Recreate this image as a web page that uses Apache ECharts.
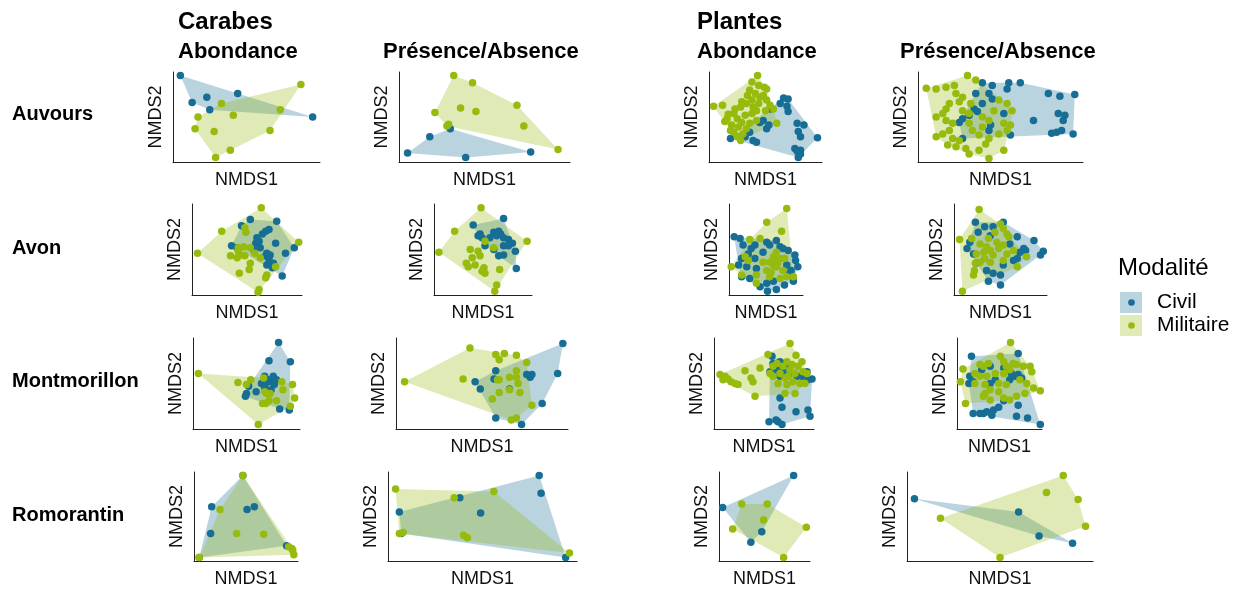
<!DOCTYPE html>
<html>
<head>
<meta charset="utf-8">
<script src="https://cdn.jsdelivr.net/npm/echarts@6/dist/echarts.min.js"></script>
<style>
html,body{margin:0;padding:0;background:#fff;}
#chart{width:1243px;height:589px;}
</style>
</head>
<body>
<div id="chart"></div>
<script>
// ---- Data (NMDS scores, rescaled 0-100 per panel) ----
const groups = ['Civil', 'Militaire'];
const rowLabels = ['Auvours', 'Avon', 'Montmorillon', 'Romorantin'];
const taxa = ['Carabes', 'Plantes'];
const metrics = ['Abondance', 'Présence/Absence'];

// Auvours
const auv_car_ab_civ = [[5,96],[13,66],[23,72],[44,76],[25,58],[95,50]];
const auv_car_ab_mil = [[87,86],[33,65],[73,58],[17,50],[41,52],[15,37],[28,34],[66,35],[39,13],[29,5]];
const auv_car_pa_civ = [[30,37],[18,28],[5,10],[39,5],[77,11]];
const auv_car_pa_mil = [[32,96],[43,88],[69,63],[36,60],[45,56],[21,55],[29,42],[28,40],[73,40],[93,14]];
const auv_pla_ab_civ = [[66,71],[70,70],[63,65],[69,62],[70,56],[54,59],[45,44],[53,41],[51,37],[78,43],[84,41],[79,34],[81,28],[96,27],[36,33],[32,28],[39,24],[42,22],[19,26],[76,15],[78,12],[81,9],[79,5],[81,13],[48,46]];
const auv_pla_ab_mil = [[43,96],[38,89],[44,85],[49,83],[51,81],[36,80],[41,76],[34,74],[45,72],[38,69],[33,65],[28,61],[4,62],[12,63],[17,53],[22,54],[14,45],[25,48],[29,44],[20,41],[26,39],[33,37],[22,33],[25,28],[30,31],[38,54],[42,57],[50,57],[60,43],[57,59],[39,61],[32,52],[19,35],[28,24],[51,69],[54,63],[36,43],[16,48],[23,59],[44,65],[48,74],[29,67],[42,46]];
const auv_pla_pa_civ = [[55,88],[62,88],[39,88],[45,85],[79,76],[95,75],[86,73],[85,54],[89,52],[88,46],[70,46],[84,33],[87,35],[94,31],[81,32],[56,30],[43,76],[45,70],[39,65],[34,59],[36,56],[31,52],[27,48],[25,44],[43,35],[44,41],[27,26],[52,54],[35,76],[54,81]];
const auv_pla_pa_mil = [[5,82],[11,81],[17,83],[22,85],[30,96],[35,91],[23,76],[27,72],[19,65],[17,59],[15,54],[11,50],[17,46],[21,43],[19,35],[15,31],[11,28],[21,26],[25,24],[23,17],[29,15],[31,9],[43,4],[37,13],[41,20],[52,13],[49,31],[54,35],[52,43],[43,46],[39,50],[46,57],[57,57],[54,65],[49,69],[39,39],[33,35],[31,43],[27,57],[25,67],[32,65],[37,30],[43,26],[56,41],[31,54],[18,19]];

// Avon
const avo_car_ab_civ = [[53,83],[77,81],[45,76],[67,70],[70,72],[64,67],[59,63],[58,57],[76,57],[36,54],[41,52],[62,52],[68,46],[67,43],[71,44],[70,39],[74,35],[68,33],[73,30],[85,46],[93,52],[82,21],[56,50],[61,59]];
const avo_car_ab_mil = [[63,96],[27,70],[5,46],[48,74],[49,69],[47,53],[53,52],[42,48],[44,44],[48,43],[41,41],[53,35],[57,46],[62,41],[52,28],[68,22],[67,19],[61,6],[60,3],[43,24],[76,31],[97,58],[42,52],[35,43]];
const avo_car_pa_civ = [[40,77],[71,84],[47,67],[45,65],[49,63],[57,63],[61,69],[66,70],[68,67],[71,63],[76,61],[80,57],[83,48],[71,44],[66,43],[61,50],[71,54],[76,54],[84,29],[52,54],[64,65]];
const avo_car_pa_mil = [[48,96],[21,70],[5,47],[95,59],[37,50],[45,48],[47,43],[33,35],[35,31],[42,33],[51,30],[49,26],[52,24],[67,28],[64,11],[62,4],[52,59],[61,52],[39,41]];
const avo_pla_ab_civ = [[7,64],[15,62],[19,55],[30,51],[35,55],[51,58],[55,55],[64,60],[73,51],[80,49],[89,44],[90,38],[93,31],[84,27],[87,15],[75,11],[64,6],[52,4],[42,9],[28,18],[17,20],[13,33],[24,31],[35,40],[51,13],[37,29],[78,33],[60,15],[46,47],[26,45],[17,40],[69,53],[82,24]];
const avo_pla_ab_mil = [[78,95],[51,80],[71,70],[28,61],[42,62],[3,31],[22,42],[26,38],[37,22],[51,27],[55,36],[60,42],[64,47],[69,40],[60,33],[64,31],[73,27],[78,20],[87,20],[69,18],[55,20],[37,13],[17,22],[46,36],[66,35],[57,25],[62,38],[75,40]];
const avo_pla_pa_civ = [[23,80],[26,69],[33,75],[42,75],[53,80],[68,64],[86,60],[96,48],[93,44],[75,51],[71,47],[77,49],[64,38],[53,33],[50,22],[37,15],[50,11],[42,24],[35,27],[24,35],[21,45],[14,51],[17,58],[39,65],[60,56],[68,40]];
const avo_pla_pa_mil = [[27,94],[6,61],[9,4],[21,22],[22,27],[23,35],[19,62],[28,56],[35,53],[32,47],[39,49],[50,78],[53,73],[57,67],[59,64],[46,58],[48,51],[42,44],[33,40],[39,36],[53,38],[68,31],[78,42],[64,49],[53,55],[37,62],[44,69],[24,45],[57,45],[28,36]];

// Montmorillon
const mon_car_ab_civ = [[80,95],[71,75],[91,74],[67,58],[75,58],[70,54],[73,52],[68,50],[64,50],[67,45],[73,43],[76,49],[78,54],[59,41],[50,39],[49,36],[52,47],[81,22],[90,21],[69,52]];
const mon_car_ab_mil = [[5,61],[42,51],[50,49],[54,54],[66,56],[69,39],[83,52],[93,49],[84,43],[78,31],[71,31],[68,28],[65,28],[72,39],[95,34],[91,25],[61,5],[67,41]];
const mon_car_pa_civ = [[97,94],[94,61],[46,52],[49,44],[58,64],[57,55],[76,60],[79,60],[78,57],[85,28],[58,12],[73,5],[66,44]];
const mon_car_pa_mil = [[5,52],[43,89],[39,55],[58,82],[63,83],[70,81],[60,76],[76,73],[70,64],[66,57],[59,54],[70,57],[71,50],[60,40],[66,43],[72,40],[56,33],[79,26],[67,10],[70,12],[60,54]];
const mon_pla_ab_civ = [[58,80],[59,72],[66,74],[69,72],[73,71],[63,69],[56,63],[61,63],[69,63],[66,58],[76,61],[83,58],[93,63],[98,55],[94,54],[66,34],[68,24],[82,19],[94,21],[96,14],[55,8],[62,10],[64,8],[68,5],[69,67],[88,58]];
const mon_pla_ab_mil = [[76,94],[82,81],[54,82],[31,64],[46,67],[6,60],[11,58],[9,54],[14,55],[17,52],[21,50],[24,49],[37,56],[39,52],[41,36],[56,61],[63,72],[69,69],[73,74],[78,71],[84,69],[88,74],[89,63],[93,61],[81,61],[74,58],[71,56],[66,61],[79,52],[86,50],[91,50],[73,49],[81,39],[71,39],[59,58],[64,50],[76,65],[59,69]];
const mon_pla_pa_civ = [[17,80],[72,83],[15,58],[14,50],[19,52],[29,65],[39,69],[55,67],[64,61],[68,58],[72,60],[62,54],[76,56],[45,54],[55,31],[49,24],[43,21],[35,19],[31,17],[27,17],[19,17],[41,15],[70,14],[83,12],[98,5],[72,26],[39,50]];
const mon_pla_pa_mil = [[63,95],[7,66],[4,52],[10,28],[21,61],[27,71],[31,69],[37,72],[51,80],[55,74],[58,69],[66,72],[70,71],[78,69],[86,69],[88,63],[82,50],[90,45],[98,42],[80,39],[70,36],[62,32],[55,34],[49,41],[39,43],[33,49],[27,58],[35,58],[45,61],[55,61],[62,65],[31,36],[39,32],[33,39],[58,49],[74,54],[49,50],[21,50]];

// Romorantin
const rom_car_ab_civ = [[47,96],[5,4],[17,61],[16,31],[51,58],[58,61],[89,17]];
const rom_car_ab_mil = [[47,96],[25,58],[41,31],[67,30],[5,4],[91,16],[94,14],[96,7],[95,12]];
const rom_car_pa_civ = [[6,55],[7,31],[38,71],[49,54],[80,96],[81,76],[94,4]];
const rom_car_pa_mil = [[4,81],[35,71],[56,78],[6,31],[8,32],[40,29],[42,26],[96,9]];
const rom_pla_ab_civ = [[82,96],[4,60],[47,33],[35,21]];
const rom_pla_ab_mil = [[25,64],[53,64],[49,46],[15,36],[96,38],[71,4]];
const rom_pla_pa_civ = [[4,70],[60,55],[71,28],[89,20]];
const rom_pla_pa_mil = [[84,96],[75,77],[92,69],[96,39],[18,48],[50,4]];

// ---- Layout & style ----
const FONT = '"Liberation Sans", Arial, Helvetica, sans-serif';
const COL = { Civil: '#176e95', Militaire: '#96bb0d' };
const FILL = { Civil: 'rgba(23,110,149,0.30)', Militaire: 'rgba(150,187,13,0.30)' };

const panels = [
  { d: [auv_car_ab_civ, auv_car_ab_mil], g: { left: 173, top: 72, width: 147, height: 90 } },
  { d: [auv_car_pa_civ, auv_car_pa_mil], g: { left: 399, top: 72, width: 171, height: 90 } },
  { d: [auv_pla_ab_civ, auv_pla_ab_mil], g: { left: 709, top: 72, width: 113, height: 90 } },
  { d: [auv_pla_pa_civ, auv_pla_pa_mil], g: { left: 918, top: 72, width: 165, height: 90 } },
  { d: [avo_car_ab_civ, avo_car_ab_mil], g: { left: 192, top: 204, width: 110, height: 91 } },
  { d: [avo_car_pa_civ, avo_car_pa_mil], g: { left: 434, top: 204, width: 98, height: 91 } },
  { d: [avo_pla_ab_civ, avo_pla_ab_mil], g: { left: 729, top: 204, width: 74, height: 91 } },
  { d: [avo_pla_pa_civ, avo_pla_pa_mil], g: { left: 954, top: 204, width: 93, height: 91 } },
  { d: [mon_car_ab_civ, mon_car_ab_mil], g: { left: 193, top: 338, width: 107, height: 91 } },
  { d: [mon_car_pa_civ, mon_car_pa_mil], g: { left: 396, top: 338, width: 172, height: 91 } },
  { d: [mon_pla_ab_civ, mon_pla_ab_mil], g: { left: 714, top: 338, width: 100, height: 91 } },
  { d: [mon_pla_pa_civ, mon_pla_pa_mil], g: { left: 957, top: 338, width: 85, height: 91 } },
  { d: [rom_car_ab_civ, rom_car_ab_mil], g: { left: 194, top: 472, width: 104, height: 90 } },
  { d: [rom_car_pa_civ, rom_car_pa_mil], g: { left: 388, top: 472, width: 189, height: 90 } },
  { d: [rom_pla_ab_civ, rom_pla_ab_mil], g: { left: 719, top: 472, width: 91, height: 90 } },
  { d: [rom_pla_pa_civ, rom_pla_pa_mil], g: { left: 907, top: 472, width: 186, height: 90 } }
];

function hull(pts) {
  const p = pts.slice().sort((a, b) => a[0] - b[0] || a[1] - b[1]);
  if (p.length < 3) return p;
  const cross = (o, a, b) => (a[0] - o[0]) * (b[1] - o[1]) - (a[1] - o[1]) * (b[0] - o[0]);
  const lower = [], upper = [];
  for (const q of p) { while (lower.length >= 2 && cross(lower[lower.length - 2], lower[lower.length - 1], q) <= 0) lower.pop(); lower.push(q); }
  for (let i = p.length - 1; i >= 0; i--) { const q = p[i]; while (upper.length >= 2 && cross(upper[upper.length - 2], upper[upper.length - 1], q) <= 0) upper.pop(); upper.push(q); }
  upper.pop(); lower.pop();
  return lower.concat(upper);
}

const grid = [], xAxis = [], yAxis = [], series = [];
const axisText = { fontFamily: FONT, fontSize: 18, color: '#111' };
panels.forEach((pn, i) => {
  grid.push(Object.assign({ containLabel: false }, pn.g));
  xAxis.push({ gridIndex: i, type: 'value', min: 0, max: 100, name: 'NMDS1', nameLocation: 'middle', nameGap: 9,
    nameTextStyle: axisText, axisLine: { show: true, onZero: false, lineStyle: { color: '#222', width: 1 } },
    axisTick: { show: false }, axisLabel: { show: false }, splitLine: { show: false } });
  yAxis.push({ gridIndex: i, type: 'value', min: 0, max: 100, name: 'NMDS2', nameLocation: 'middle', nameGap: 8, nameRotate: 90,
    nameTextStyle: axisText, axisLine: { show: true, onZero: false, lineStyle: { color: '#222', width: 1 } },
    axisTick: { show: false }, axisLabel: { show: false }, splitLine: { show: false } });
  groups.forEach((gname, k) => {
    const hv = hull(pn.d[k]);
    series.push({
      type: 'custom', name: gname, xAxisIndex: i, yAxisIndex: i, z: 1 + k, silent: true,
      data: hv,
      renderItem: function (params, api) {
        if (params.dataIndex !== 0) return null;
        const pts = hv.map(q => api.coord(q));
        return { type: 'polygon', shape: { points: pts }, style: { fill: FILL[gname], stroke: null } };
      },
      clip: false
    });
  });
  groups.forEach((gname, k) => {
    series.push({ type: 'scatter', name: gname, xAxisIndex: i, yAxisIndex: i, z: 10 + k,
      data: pn.d[k], symbolSize: 7.5, itemStyle: { color: COL[gname], opacity: 1 }, clip: false, silent: true });
  });
});

function txt(t, x, y, font) {
  return { type: 'text', x: x, y: y, silent: true,
    style: { text: t, font: font, fill: '#000', textAlign: 'left', textVerticalAlign: 'middle', align: 'left', verticalAlign: 'middle' } };
}

const graphic = [
  txt(taxa[0], 178, 22, 'bold 24px ' + FONT),
  txt(taxa[1], 697, 22, 'bold 24px ' + FONT),
  txt(metrics[0], 178, 52, 'bold 22px ' + FONT),
  txt(metrics[1], 383, 52, 'bold 22px ' + FONT),
  txt(metrics[0], 697, 52, 'bold 22px ' + FONT),
  txt(metrics[1], 900, 52, 'bold 22px ' + FONT),
  txt(rowLabels[0], 12, 114, 'bold 20px ' + FONT),
  txt(rowLabels[1], 12, 248, 'bold 20px ' + FONT),
  txt(rowLabels[2], 12, 381, 'bold 20px ' + FONT),
  txt(rowLabels[3], 12, 515, 'bold 20px ' + FONT),
  txt('Modalité', 1118, 268, '24px ' + FONT),
  { type: 'circle', shape: { cx: 1131.5, cy: 302.5, r: 3.3 }, style: { fill: COL.Civil }, z: 200 },
  { type: 'circle', shape: { cx: 1131.5, cy: 325.5, r: 3.3 }, style: { fill: COL.Militaire }, z: 200 }
];

const chart = echarts.init(document.getElementById('chart'), null, { renderer: 'canvas' });
chart.setOption({
  animation: false,
  backgroundColor: '#fff',
  grid, xAxis, yAxis, series, graphic,
  legend: {
    left: 1120, top: 292, orient: 'vertical', itemWidth: 22, itemHeight: 21, itemGap: 2, padding: 0,
    selectedMode: false,
    textStyle: { fontFamily: FONT, fontSize: 21, color: '#000', padding: [0, 0, 0, 10] },
    data: [
      { name: 'Civil', icon: 'rect', itemStyle: { color: FILL.Civil, opacity: 1 } },
      { name: 'Militaire', icon: 'rect', itemStyle: { color: FILL.Militaire, opacity: 1 } }
    ]
  }
});
</script>
</body>
</html>
